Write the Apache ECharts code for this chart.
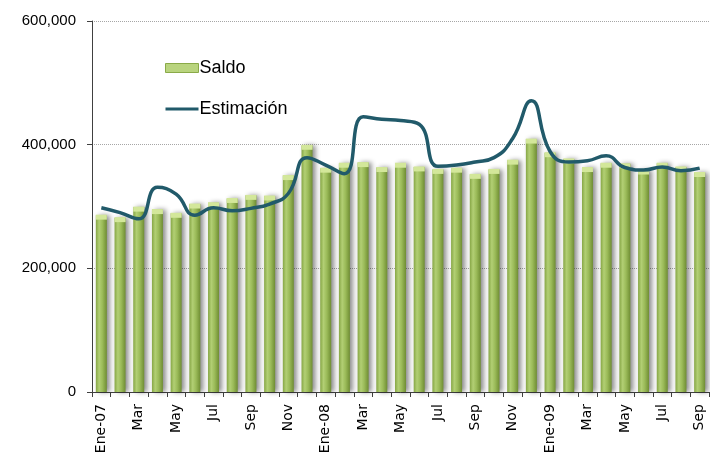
<!DOCTYPE html>
<html>
<head>
<meta charset="utf-8">
<script src="https://cdn.jsdelivr.net/npm/echarts@6/dist/echarts.min.js"></script>
<style>
  html, body { margin: 0; padding: 0; background: #fff; }
  #chart { width: 710px; height: 466px; }
</style>
</head>
<body>
<div id="chart"></div>
<script>
// meses Ene-07 .. Sep-09
var meses = ['Ene-07','Feb','Mar','Abr','May','Jun','Jul','Ago','Sep','Oct','Nov','Dic',
             'Ene-08','Feb','Mar','Abr','May','Jun','Jul','Ago','Sep','Oct','Nov','Dic',
             'Ene-09','Feb','Mar','Abr','May','Jun','Jul','Ago','Sep'];

var saldo = [286000, 282000, 299000, 295000, 289000, 304000, 306000, 313000, 318000, 317000, 350000, 399000,
             362000, 370000, 371000, 363000, 370000, 364000, 360000, 362000, 352000, 360000, 375000, 409000,
             387000, 377000, 363000, 370000, 369000, 359000, 370000, 364000, 355000];

var estimacion = [298000, 290000, 280000, 331000, 320000, 286000, 298000, 293000, 297000, 304000, 321000, 379000,
                  367000, 353000, 445000, 441000, 439000, 433000, 365000, 367000, 372000, 379000, 410000, 471000,
                  389000, 372000, 374000, 382000, 363000, 359000, 364000, 358000, 362000];

var yTicks = [0, 200000, 400000, 600000];

var myChart = echarts.init(document.getElementById('chart'));

var barColor = new echarts.graphic.LinearGradient(0, 0, 1, 0, [
  {offset: 0, color: '#86a645'},
  {offset: 0.3, color: '#b2cf74'},
  {offset: 0.6, color: '#9bbb59'},
  {offset: 1, color: '#6f8d33'}
]);

myChart.setOption({
  animation: false,
  backgroundColor: '#fff',
  grid: {left: 92, right: 1, top: 21, bottom: 74},
  legend: {
    orient: 'vertical',
    left: 160,
    top: 54,
    itemWidth: 33,
    itemHeight: 9,
    itemGap: 23,
    textStyle: {fontFamily: 'Liberation Sans', fontSize: 18, color: '#000', padding: [0, 0, 0, -4]},
    data: [
      {name: 'Saldo', icon: 'rect', itemStyle: {color: '#b9d47e', borderColor: '#8aaa48', borderWidth: 1}},
      {name: 'Estimación', icon: 'path://M0,0H33V3H0Z', itemStyle: {color: '#215a6a'}}
    ]
  },
  xAxis: {
    type: 'category',
    data: meses,
    boundaryGap: true,
    axisLine: {lineStyle: {color: '#404040', width: 1}},
    axisTick: {show: true, length: 5, interval: 0, lineStyle: {color: '#404040'}},
    axisLabel: {
      interval: 1,
      rotate: 90,
      margin: 12,
      fontFamily: 'DejaVu Sans',
      fontSize: 14,
      color: '#000'
    }
  },
  yAxis: {
    type: 'value',
    min: yTicks[0],
    max: yTicks[yTicks.length - 1],
    interval: 200000,
    axisLine: {show: true, lineStyle: {color: '#404040', width: 1}},
    axisTick: {show: true, length: 5, lineStyle: {color: '#404040'}},
    splitLine: {show: true, lineStyle: {color: '#a6a6a6', type: 'dotted', width: 1}},
    axisLabel: {
      margin: 16,
      fontFamily: 'Liberation Sans',
      fontSize: 15,
      color: '#000',
      formatter: function (v) { return v.toLocaleString('en-US'); }
    }
  },
  series: [
    {
      name: 'Saldo',
      type: 'bar',
      data: saldo,
      barWidth: 11,
      itemStyle: {
        color: barColor,
        shadowColor: 'rgba(0,0,0,0.45)',
        shadowBlur: 5,
        shadowOffsetX: 3
      },
      z: 2
    },
    {
      // tapa clara de cada barra
      name: 'tapa',
      type: 'pictorialBar',
      data: saldo,
      symbol: 'ellipse',
      symbolSize: [11, 5],
      symbolPosition: 'end',
      symbolOffset: [0, '-10%'],
      itemStyle: {color: '#d3e79a'},
      silent: true,
      z: 3
    },
    {
      name: 'Estimación',
      type: 'line',
      data: estimacion,
      smooth: 0.5,
      symbol: 'none',
      showSymbol: false,
      lineStyle: {color: '#215a6a', width: 3.5},
      itemStyle: {color: '#215a6a'},
      z: 5
    }
  ]
});
</script>
</body>
</html>
